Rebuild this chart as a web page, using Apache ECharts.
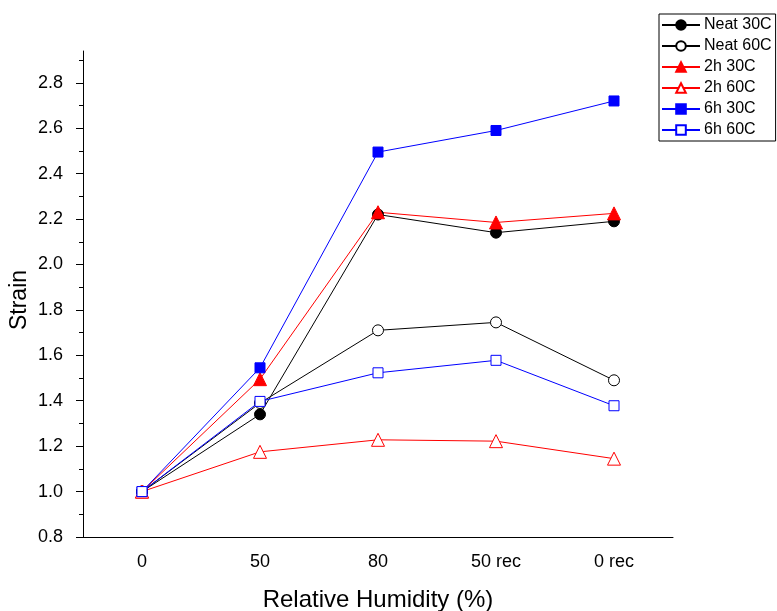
<!DOCTYPE html>
<html>
<head>
<meta charset="utf-8">
<script src="https://cdn.jsdelivr.net/npm/echarts@6/dist/echarts.min.js"></script>
<style>
  html, body { margin: 0; padding: 0; background: #fff; }
  #chart { width: 777px; height: 611px; }
</style>
</head>
<body>
<div id="chart"></div>
<script>
// Relative humidity steps (exposure then recovery)
const categories = ['0', '50', '80', '50 rec', '0 rec'];

// Strain at each humidity step
const neat30 = [1.00, 1.34, 2.22, 2.14, 2.19];
const neat60 = [1.00, 1.39, 1.71, 1.745, 1.49];
const h2_30 = [1.00, 1.495, 2.23, 2.185, 2.225];
const h2_60 = [1.00, 1.175, 1.228, 1.222, 1.145];
const h6_30 = [1.00, 1.545, 2.495, 2.59, 2.72];
const h6_60 = [1.00, 1.397, 1.523, 1.578, 1.378];

// Strain axis: labelled ticks and the minor ticks between them
const yMajorTicks = [0.8, 1.0, 1.2, 1.4, 1.6, 1.8, 2.0, 2.2, 2.4, 2.6, 2.8];
const yMinorTicks = [0.9, 1.1, 1.3, 1.5, 1.7, 1.9, 2.1, 2.3, 2.5, 2.7, 2.9];
const yRange = [0.8, 2.94];

const font = 'Liberation Sans, Arial, sans-serif';

function series(name, data, color, symbol, filled, size) {
  return {
    name: name,
    type: 'line',
    data: data,
    symbol: symbol,
    symbolSize: size,
    showAllSymbol: true,
    lineStyle: { color: color, width: 1 },
    itemStyle: {
      color: filled ? color : '#ffffff',
      borderColor: color,
      borderWidth: 1
    },
    emphasis: { disabled: true },
    z: 3
  };
}

const chart = echarts.init(document.getElementById('chart'), null, { renderer: 'canvas' });

chart.setOption({
  animation: false,
  backgroundColor: '#ffffff',
  grid: {
    left: 83, right: 104, top: 51, bottom: 74,
    containLabel: false,
    outerBoundsMode: 'none'
  },
  legend: {
    orient: 'vertical',
    left: 659,
    top: 14,
    padding: [3, 4, 3, 2],
    itemGap: 5,
    itemWidth: 38,
    itemHeight: 12,
    borderColor: '#000',
    borderWidth: 1,
    textStyle: { fontFamily: font, fontSize: 16, color: '#000', padding: [0, 0, 0, -1] },
    data: ['Neat 30C', 'Neat 60C', '2h 30C', '2h 60C', '6h 30C', '6h 60C']
  },
  xAxis: [
    {
      type: 'category',
      data: categories,
      boundaryGap: true,
      name: 'Relative Humidity (%)',
      nameLocation: 'middle',
      nameGap: 51,
      nameMoveOverlap: false,
      nameTextStyle: { fontFamily: font, fontSize: 24, color: '#000' },
      axisLine: { lineStyle: { color: '#000', width: 1 } },
      axisTick: { alignWithLabel: true, length: 7, lineStyle: { color: '#000' } },
      axisLabel: { fontFamily: font, fontSize: 18, color: '#000', margin: 16 },
      splitLine: { show: false }
    },
    {
      type: 'category',
      data: categories,
      boundaryGap: true,
      position: 'bottom',
      axisLine: { show: false },
      axisTick: { length: 4, lineStyle: { color: '#000' } },
      axisLabel: { show: false },
      splitLine: { show: false }
    }
  ],
  yAxis: [
    {
      type: 'value',
      min: yRange[0],
      max: yRange[1],
      name: 'Strain',
      nameLocation: 'middle',
      nameGap: 52,
      nameMoveOverlap: false,
      nameTextStyle: { fontFamily: font, fontSize: 23, color: '#000', padding: [0, 12, 0, 0] },
      axisLine: { show: true, lineStyle: { color: '#000', width: 1 } },
      axisTick: { show: true, length: 7, customValues: yMajorTicks, lineStyle: { color: '#000' } },
      axisLabel: {
        fontFamily: font, fontSize: 18, color: '#000', margin: 20,
        customValues: yMajorTicks,
        formatter: v => v.toFixed(1)
      },
      splitLine: { show: false }
    },
    {
      type: 'value',
      min: yRange[0],
      max: yRange[1],
      position: 'left',
      axisLine: { show: false },
      axisTick: { show: true, length: 4, customValues: yMinorTicks, lineStyle: { color: '#000' } },
      axisLabel: { show: false },
      splitLine: { show: false }
    }
  ],
  series: [
    series('Neat 30C', neat30, '#000000', 'circle', true, 11),
    series('Neat 60C', neat60, '#000000', 'circle', false, 11),
    series('2h 30C', h2_30, '#ff0000', 'triangle', true, 13),
    series('2h 60C', h2_60, '#ff0000', 'triangle', false, 13),
    series('6h 30C', h6_30, '#0000ff', 'rect', true, 10),
    series('6h 60C', h6_60, '#0000ff', 'rect', false, 10)
  ]
});
</script>
</body>
</html>
